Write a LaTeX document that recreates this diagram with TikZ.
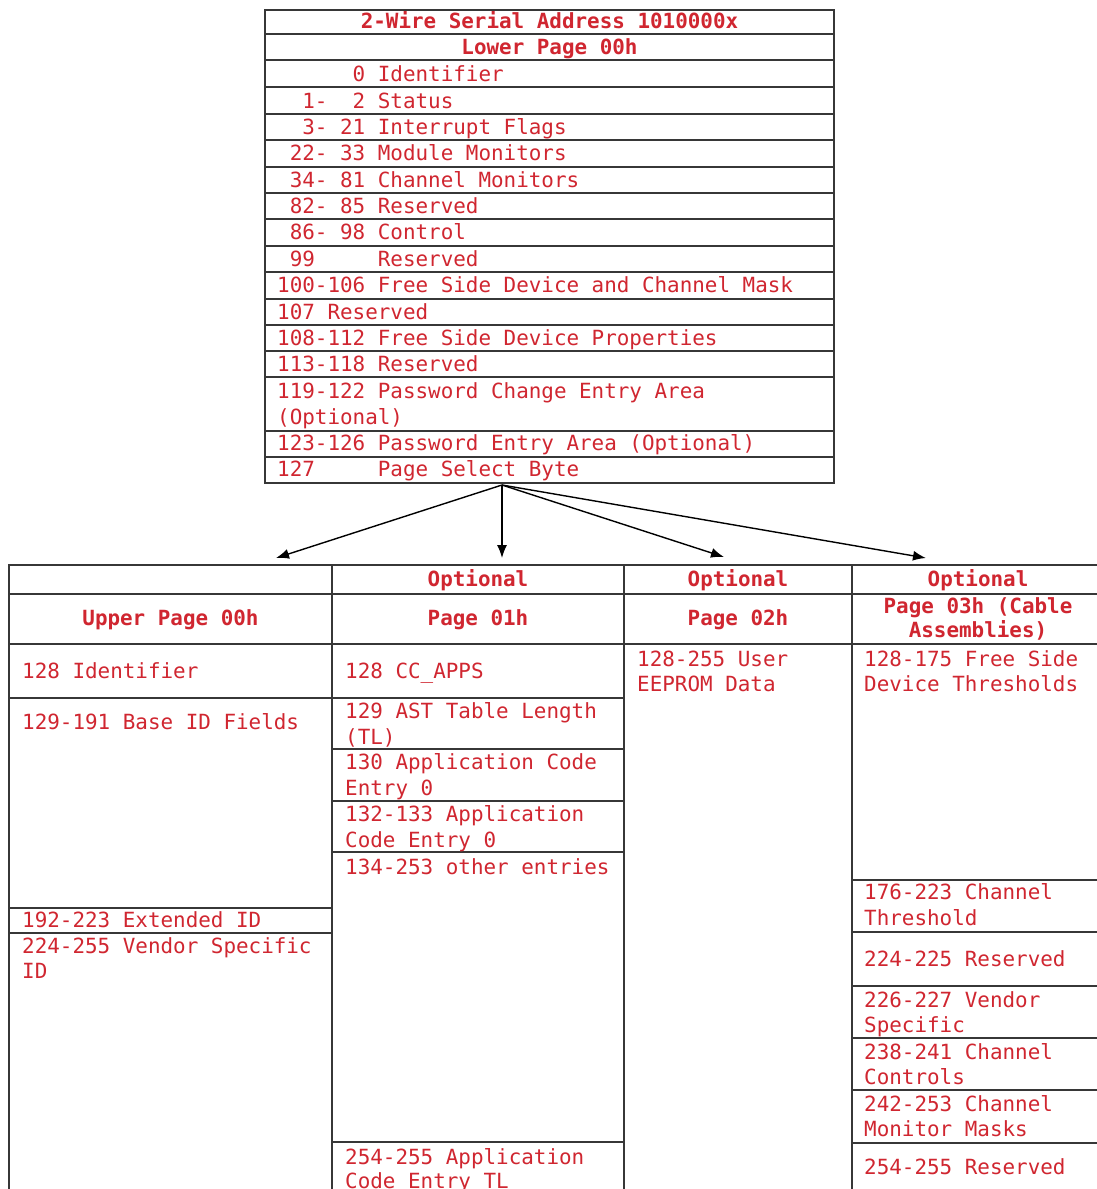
\documentclass[tikz,border=0pt]{standalone}
\usepackage{fontspec}
\setmonofont{DejaVu Sans Mono}
\usetikzlibrary{arrows.meta}
\definecolor{txt}{RGB}{208,38,48}
\definecolor{rulec}{RGB}{55,55,55}
\newcommand\blnk{\hphantom{0}}
\tikzset{
  cell/.style={draw=rulec, line width=1.6pt},
  lbl/.style={anchor=base west, inner sep=0pt, text=txt, font=\fontsize{20.9}{25}\ttfamily},
  hdr/.style={anchor=base, inner sep=0pt, text=txt, font=\fontsize{20.9}{25}\ttfamily\bfseries},
  link/.style={draw=black, line width=1.4pt, -{Latex[length=13pt,width=10pt]}}
}
\begin{document}
\begin{tikzpicture}[x=1pt,y=-1pt]
\useasboundingbox (0,0) rectangle (1097,1189);
\clip (0,0) rectangle (1097,1189);
\fill[white] (0,0) rectangle (1097,1189);

% ---------- upper table: Lower Page 00h ----------
\draw[cell] (265,10) rectangle (834,483);
\foreach \y in {34,60,87,114,140,167,193,219,246,272,299,325,351,377,431,457}
  \draw[cell] (265,\y) -- (834,\y);

\node[hdr] (ttl) at (549.5,28.5) {2-Wire Serial Address 1010000x};
\node[hdr] (lp)  at (549.5,54.5) {Lower Page 00h};
\node[lbl] (r0)  at (277,81)  {\blnk\blnk\blnk\blnk\blnk\blnk0 Identifier};
\node[lbl] (r1)  at (277,108) {\blnk\blnk1-\blnk\blnk2 Status};
\node[lbl] (r2)  at (277,134) {\blnk\blnk3- 21 Interrupt Flags};
\node[lbl] (r3)  at (277,160.5) {\blnk22- 33 Module Monitors};
\node[lbl] (r4)  at (277,187) {\blnk34- 81 Channel Monitors};
\node[lbl] (r5)  at (277,213) {\blnk82- 85 Reserved};
\node[lbl] (r6)  at (277,239.5) {\blnk86- 98 Control};
\node[lbl] (r7)  at (277,266) {\blnk99\blnk\blnk\blnk\blnk\blnk Reserved};
\node[lbl] (r8)  at (277,292.5) {100-106 Free Side Device and Channel Mask};
\node[lbl] (r9)  at (277,319) {107 Reserved};
\node[lbl] (r10) at (277,345) {108-112 Free Side Device Properties};
\node[lbl] (r11) at (277,371) {113-118 Reserved};
\node[lbl] (r12) at (277,398) {119-122 Password Change Entry Area};
\node[lbl] (r12b) at (277,424) {(Optional)};
\node[lbl] (r13) at (277,450.5) {123-126 Password Entry Area (Optional)};
\node[lbl] (r14) at (277,476.5) {127\blnk\blnk\blnk\blnk\blnk Page Select Byte};

% ---------- lower table ----------
\draw[cell] (9,565) rectangle (1104,1195);
\foreach \x in {332,624,852} \draw[cell] (\x,565) -- (\x,1195);
\draw[cell] (9,594) -- (1104,594);
\draw[cell] (9,644) -- (1104,644);
% column 1
\foreach \y in {698,908,933} \draw[cell] (9,\y) -- (332,\y);
% column 2
\foreach \y in {698,749,801,852,1142} \draw[cell] (332,\y) -- (624,\y);
% column 4
\foreach \y in {880,932,986,1038,1090,1143} \draw[cell] (852,\y) -- (1104,\y);

% headers
\node[hdr] (o1) at (478,586.5) {Optional};
\node[hdr] (o2) at (738,586.5) {Optional};
\node[hdr] (o3) at (978,586.5) {Optional};
\node[hdr] (p0) at (170.5,625.5) {Upper Page 00h};
\node[hdr] (p1) at (478,625.5) {Page 01h};
\node[hdr] (p2) at (738,625.5) {Page 02h};
\node[hdr] (p3a) at (978,613.5) {Page 03h (Cable};
\node[hdr] (p3b) at (978,637.5) {Assemblies)};

% column 1 entries
\node[lbl] (a1) at (22,678.5) {128 Identifier};
\node[lbl] (a2) at (22,729.5) {129-191 Base ID Fields};
\node[lbl] (a3) at (22,927.5) {192-223 Extended ID};
\node[lbl] (a4) at (22,953.5) {224-255 Vendor Specific};
\node[lbl] (a4b) at (22,978.5) {ID};

% column 2 entries
\node[lbl] (b1) at (345,678.5) {128 CC\_APPS};
\node[lbl] (b2) at (345,718.5) {129 AST Table Length};
\node[lbl] (b2b) at (345,744.5) {(TL)};
\node[lbl] (b3) at (345,769.5) {130 Application Code};
\node[lbl] (b3b) at (345,795.5) {Entry 0};
\node[lbl] (b4) at (345,821.5) {132-133 Application};
\node[lbl] (b4b) at (345,847.5) {Code Entry 0};
\node[lbl] (b5) at (345,874.5) {134-253 other entries};
\node[lbl] (b6) at (345,1164.5) {254-255 Application};
\node[lbl] (b6b) at (345,1188) {Code Entry TL};

% column 3 entries
\node[lbl] (c1) at (637,666.5) {128-255 User};
\node[lbl] (c1b) at (637,691.5) {EEPROM Data};

% column 4 entries
\node[lbl] (d1) at (864,666.5) {128-175 Free Side};
\node[lbl] (d1b) at (864,691.5) {Device Thresholds};
\node[lbl] (d2) at (864,899.5) {176-223 Channel};
\node[lbl] (d2b) at (864,925.5) {Threshold};
\node[lbl] (d3) at (864,966.5) {224-225 Reserved};
\node[lbl] (d4) at (864,1007.5) {226-227 Vendor};
\node[lbl] (d4b) at (864,1032.5) {Specific};
\node[lbl] (d5) at (864,1059.5) {238-241 Channel};
\node[lbl] (d5b) at (864,1084.5) {Controls};
\node[lbl] (d6) at (864,1111.5) {242-253 Channel};
\node[lbl] (d6b) at (864,1136.5) {Monitor Masks};
\node[lbl] (d7) at (864,1174.5) {254-255 Reserved};

% ---------- arrows ----------
\coordinate (src) at (502,485);
\coordinate (t0) at (276,558);
\coordinate (t1) at (502,558);
\coordinate (t2) at (724,557);
\coordinate (t3) at (926,558);
\draw[link] (src) -- (t0);
\draw[link] (src) -- (t1);
\draw[link] (src) -- (t2);
\draw[link] (src) -- (t3);
\end{tikzpicture}
\end{document}
